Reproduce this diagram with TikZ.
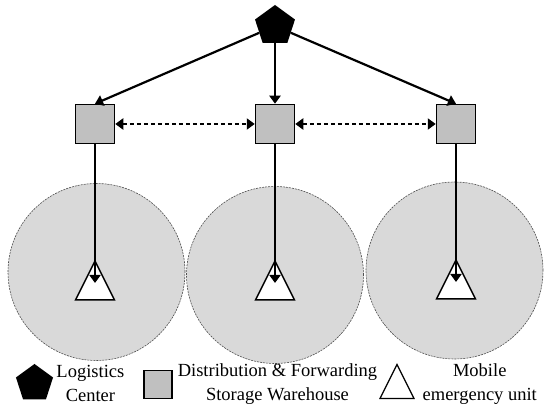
\documentclass[tikz,border=0pt]{standalone}
\usepackage{fontspec}
\setmainfont{Liberation Serif}
\usetikzlibrary{shapes.geometric, arrows.meta, positioning}
\definecolor{zonegray}{HTML}{D9D9D9}
\definecolor{depotgray}{HTML}{C0C0C0}
\definecolor{rimgray}{HTML}{505050}

\begin{document}
\begin{tikzpicture}[
    x=1pt, y=-1pt,
    font=\fontsize{18.5}{24}\selectfont,
    hub/.style={regular polygon, regular polygon sides=5, fill=black, inner sep=0pt, minimum size=42pt},
    depot/.style={draw, line width=1.5pt, fill=depotgray, minimum size=39pt, inner sep=0pt},
    unit/.style={isosceles triangle, isosceles triangle stretches, shape border rotate=90, draw, line width=1.5pt, fill=white, minimum width=39pt, minimum height=39pt, inner sep=0pt},
    zone/.style={circle, draw=rimgray, dash pattern=on 2pt off 1pt, line width=0.6pt, fill=zonegray, minimum size=177pt, inner sep=0pt},
    arr/.style={line width=2.2pt, -{Triangle[length=8pt,width=11pt]}},
    link/.style={line width=2.2pt, dash pattern=on 4pt off 3pt, {Triangle[length=8pt,width=11pt]}-{Triangle[length=8pt,width=11pt]}},
    legtext/.style={align=center, inner sep=5pt},
]
\useasboundingbox (0,0) rectangle (550,411);

% Coverage zones
\node[zone] (cov1) at (96.5,272) {};
\node[zone] (cov2) at (275,275) {};
\node[zone] (cov3) at (454.5,270.5) {};

% Logistics center and warehouses
\node[hub] (lc) at (275,26) {};
\node[depot] (ds2) at (275,124) {};
\node[depot, left=139.5pt of ds2] (ds1) {};
\node[depot, right=140.5pt of ds2] (ds3) {};

% Mobile units
\node[unit, anchor=apex] (mu1) at (ds1 |- 0,259) {};
\node[unit, anchor=apex] (mu2) at (ds2 |- 0,259) {};
\node[unit, anchor=apex] (mu3) at (ds3 |- 0,258) {};

% Arrows
\draw[arr] (lc) -- (ds1.north);
\draw[arr] (lc.south) -- (ds2.north);
\draw[arr] (lc) -- (ds3.north);
\draw[link] (ds1.east) -- (ds2.west);
\draw[link] (ds2.east) -- (ds3.west);
\foreach \i in {1,2,3} {
    \draw[arr] (ds\i.south) -- ([yshift=-24pt]mu\i.apex);
}

% Legend
\node[hub, minimum size=39pt] (keyhub) at (34.5,383.5) {};
\node[legtext, right=0pt of keyhub] (keyhubtxt) {Logistics\\Center};
\node[depot, minimum size=28pt, line width=1.2pt] (keydepot) at (158,384.5) {};
\node[legtext, right=0pt of keydepot] (keydepottxt) {Distribution \& Forwarding\\Storage Warehouse};
\node[unit, minimum width=34pt, minimum height=34pt, line width=1.2pt, anchor=apex] (keyunit) at (397,363) {};
\node[legtext, right=8pt of keyunit, yshift=4pt] (keyunittxt) {Mobile\\emergency unit};

\end{tikzpicture}
\end{document}
